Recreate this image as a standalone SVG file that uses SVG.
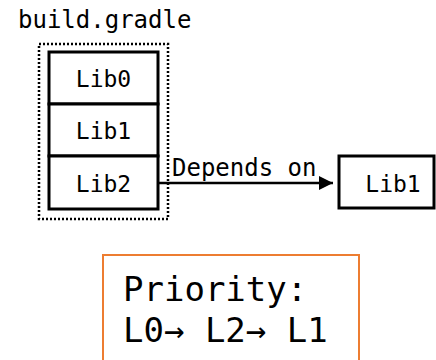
<svg xmlns="http://www.w3.org/2000/svg" width="436" height="360" viewBox="0 0 436 360">
  <style>
    .mono { font-family: "DejaVu Sans Mono", "Liberation Mono", monospace; fill: #000; }
    .lib { font-size: 23px; text-anchor: middle; }
    .box { fill: #fff; stroke: #000; stroke-width: 3; }
  </style>
  <defs>
    <marker id="arrow" viewBox="0 0 10 10" refX="10" refY="5" markerWidth="17" markerHeight="14" markerUnits="userSpaceOnUse" orient="auto">
      <path d="M0,0 L10,5 L0,10 Z" fill="#000"/>
    </marker>
  </defs>
  <rect width="436" height="360" fill="#fff"/>

  <!-- build.gradle container -->
  <g id="build-gradle">
    <text class="mono" x="18" y="28" font-size="24">build.gradle</text>
    <rect x="39" y="44" width="129" height="175" fill="none" stroke="#000" stroke-width="2.5" stroke-dasharray="2 2"/>
  </g>

  <g id="lib0">
    <rect class="box" x="49" y="52" width="109" height="52"/>
    <text class="mono lib" x="103.5" y="87">Lib0</text>
  </g>
  <g id="lib1">
    <rect class="box" x="49" y="104" width="109" height="52"/>
    <text class="mono lib" x="103.5" y="139">Lib1</text>
  </g>
  <g id="lib2">
    <rect class="box" x="49" y="156" width="109" height="53"/>
    <text class="mono lib" x="103.5" y="192">Lib2</text>
  </g>

  <g id="lib1-external">
    <rect class="box" x="339" y="156" width="95" height="52"/>
    <text class="mono lib" x="393" y="192">Lib1</text>
  </g>

  <g id="connectors">
    <line x1="158" y1="183" x2="333" y2="183" stroke="#000" stroke-width="2.5" marker-end="url(#arrow)"/>
    <text class="mono" x="172" y="176" font-size="24">Depends on</text>
  </g>

  <g id="priority">
    <rect x="103" y="255" width="256" height="110" fill="#fff" stroke="#ED7D31" stroke-width="2"/>
    <text class="mono" x="123" y="301" font-size="34">Priority:</text>
    <text class="mono" x="123" y="342" font-size="34">L0→ L2→ L1</text>
  </g>
</svg>
